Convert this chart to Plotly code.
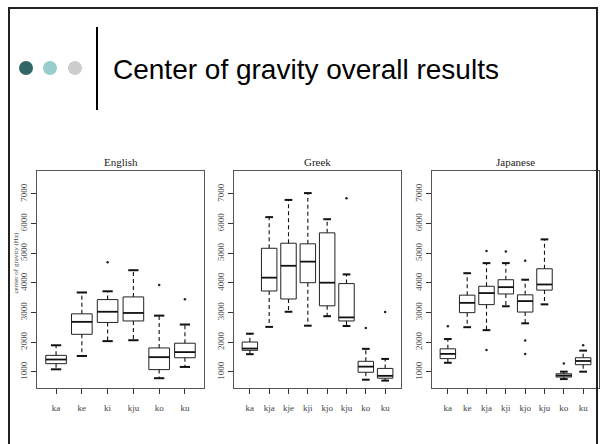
import plotly.graph_objects as go

W, H = 602, 444

# ---------------- data ----------------
eng_cats = ["ka", "ke", "ki", "kju", "ko", "ku"]
eng_lw = [1090, 1540, 2040, 2070, 790, 1170]
eng_q1 = [1280, 2270, 2670, 2720, 1080, 1480]
eng_med = [1420, 2690, 3030, 2990, 1500, 1670]
eng_q3 = [1560, 2960, 3440, 3530, 1810, 1970]
eng_uw = [1900, 3680, 3720, 4430, 2900, 2600]
eng_out = [[], [], [4700], [], [3930], [3450]]

gre_cats = ["ka", "kja", "kje", "kji", "kjo", "kju", "ko", "ku"]
gre_lw = [1600, 2520, 3030, 2560, 2880, 2550, 740, 710]
gre_q1 = [1730, 3730, 3460, 4010, 3230, 2720, 990, 790]
gre_med = [1790, 4180, 4580, 4720, 4010, 2840, 1180, 870]
gre_q3 = [2010, 5170, 5340, 5320, 5690, 3980, 1360, 1120]
gre_uw = [2290, 6220, 6800, 7030, 6150, 4290, 1780, 1440]
gre_out = [[], [], [], [], [], [6860], [2480], [3020]]

jap_cats = ["ka", "ke", "kja", "kji", "kjo", "kju", "ko", "ku"]
jap_lw = [1310, 2510, 2410, 3215, 2640, 3280, 760, 1010]
jap_q1 = [1450, 3000, 3270, 3630, 3020, 3760, 830, 1245]
jap_med = [1610, 3330, 3660, 3860, 3390, 3950, 880, 1370]
jap_q3 = [1780, 3590, 3890, 4110, 3600, 4480, 940, 1480]
jap_uw = [2110, 4330, 4670, 4670, 4110, 5470, 1010, 1720]
jap_out = [[2540], [], [5080, 1740], [5060], [4750, 2060, 1610], [], [1290], [1900]]

panel_titles = ["English", "Greek", "Japanese"]
y_ticks = [1000, 2000, 3000, 4000, 5000, 6000, 7000]
y_label = "center of gravity (Hz)"
slide_title = "Center of gravity overall results"

panels = [
    (eng_cats, eng_lw, eng_q1, eng_med, eng_q3, eng_uw, eng_out),
    (gre_cats, gre_lw, gre_q1, gre_med, gre_q3, gre_uw, gre_out),
    (jap_cats, jap_lw, jap_q1, jap_med, jap_q3, jap_uw, jap_out),
]

# ---------------- layout helpers ----------------
def px(x):
    return x / W

def py(y):
    return 1 - y / H

panel_x = [(37, 204), (234, 401), (432, 599)]
panel_y = (171, 388)

BOXW = 0.4
STAP = 0.2

fig = go.Figure()
layout = dict(
    width=W, height=H, margin=dict(l=0, r=0, t=0, b=0),
    paper_bgcolor="white", plot_bgcolor="white", showlegend=False,
    font=dict(family="Liberation Serif", color="#333"),
)

annotations = []
for k, (cats, lw, q1, med, q3, uw, outs) in enumerate(panels):
    n = len(cats)
    xs = f"x{k+1}" if k else "x"
    ys = f"y{k+1}" if k else "y"
    pos = list(range(1, n + 1))

    bx, by, mx, my, wx, wy, sx, sy, ox, oy = [], [], [], [], [], [], [], [], [], []
    for i, p in enumerate(pos):
        bx += [p - BOXW, p + BOXW, p + BOXW, p - BOXW, p - BOXW, None]
        by += [q1[i], q1[i], q3[i], q3[i], q1[i], None]
        mx += [p - BOXW, p + BOXW, None]
        my += [med[i], med[i], None]
        wx += [p, p, None, p, p, None]
        wy += [q3[i], uw[i], None, q1[i], lw[i], None]
        sx += [p - STAP, p + STAP, None, p - STAP, p + STAP, None]
        sy += [uw[i], uw[i], None, lw[i], lw[i], None]
        for o in outs[i]:
            ox.append(p)
            oy.append(o)

    common = dict(xaxis=xs, yaxis=ys, hoverinfo="skip", mode="lines")
    fig.add_trace(go.Scatter(x=wx, y=wy, line=dict(color="#111", width=1.1, dash="4px,3px"), **common))
    fig.add_trace(go.Scatter(x=sx, y=sy, line=dict(color="#111", width=2), **common))
    fig.add_trace(go.Scatter(x=bx, y=by, line=dict(color="#222", width=1), **common))
    fig.add_trace(go.Scatter(x=mx, y=my, line=dict(color="#111", width=1.8), **common))
    fig.add_trace(go.Scatter(x=ox, y=oy, mode="markers", marker=dict(color="#222", size=2.5),
                             xaxis=xs, yaxis=ys, hoverinfo="skip"))

    ext = 0.04 * n
    x0, x1 = panel_x[k]
    layout[f"xaxis{k+1}" if k else "xaxis"] = dict(
        domain=[px(x0), px(x1)], anchor=ys, range=[0.5 - ext, n + 0.5 + ext],
        tickvals=pos, ticktext=cats, ticks="outside", ticklen=5, tickcolor="#333",
        showline=True, mirror=True, linecolor="#555", linewidth=1,
        showgrid=False, zeroline=False, tickfont=dict(size=9, color="#444"),
        ticklabelstandoff=6,
    )
    layout[f"yaxis{k+1}" if k else "yaxis"] = dict(
        domain=[py(panel_y[1]), py(panel_y[0])], anchor=xs, range=[460, 7775],
        tickvals=y_ticks, ticktext=[str(t) for t in y_ticks], ticks="outside", ticklen=5,
        tickcolor="#333", tickangle=-90,
        showline=True, mirror=True, linecolor="#555", linewidth=1,
        showgrid=False, zeroline=False, tickfont=dict(size=9, color="#555"),
    )
    annotations.append(dict(
        text=panel_titles[k], x=px((x0 + x1) / 2), y=py(162), xref="paper", yref="paper",
        showarrow=False, xanchor="center", yanchor="middle",
        font=dict(family="Liberation Serif", size=11, color="#222"),
    ))

annotations.append(dict(
    text=y_label, x=px(15.5), y=py(263), xref="paper", yref="paper", textangle=-90,
    showarrow=False, xanchor="center", yanchor="middle",
    font=dict(family="Liberation Serif", size=7, color="#444"),
))
annotations.append(dict(
    text=slide_title, x=px(111), y=py(70), xref="paper", yref="paper",
    showarrow=False, xanchor="left", yanchor="middle",
    font=dict(family="Liberation Sans", size=28, color="#000"),
))

shapes = [
    dict(type="rect", xref="paper", yref="paper", x0=px(9), x1=px(597), y0=py(8), y1=py(470),
         line=dict(color="#222", width=2), layer="above"),
    dict(type="line", xref="paper", yref="paper", x0=px(97), x1=px(97), y0=py(27), y1=py(110),
         line=dict(color="#000", width=2)),
]
for cx, col in [(26, "#336666"), (50, "#99cccc"), (75, "#cccccc")]:
    shapes.append(dict(type="circle", xref="paper", yref="paper",
                       x0=px(cx - 7), x1=px(cx + 7), y0=py(61), y1=py(75),
                       fillcolor=col, line=dict(width=0)))

layout["annotations"] = annotations
layout["shapes"] = shapes
fig.update_layout(**layout)
fig.write_html("out.html")
